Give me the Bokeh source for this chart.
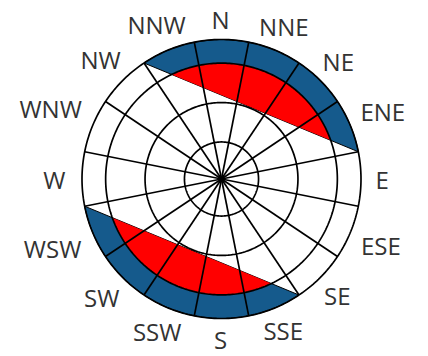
import numpy as np
from bokeh.plotting import figure
from bokeh.models import ColumnDataSource
from bokeh.core.properties import value
from bokeh.embed import file_html
from bokeh.resources import INLINE

# ---------------- data ----------------
directions = ["N", "NNE", "NE", "ENE", "E", "ESE", "SE", "SSE",
              "S", "SSW", "SW", "WSW", "W", "WNW", "NW", "NNW"]
outer_values = [3.6, 3.6, 3.6, 3.6, 0, 0, 0, 3.6,
                3.6, 3.6, 3.6, 3.6, 0, 0, 0, 3.6]
inner_values = [3.0, 3.0, 3.0, 3.0, 0, 0, 0, 3.0,
                3.0, 3.0, 3.0, 3.0, 0, 0, 0, 3.0]
radial_ticks = [1, 2, 3]
r_min, r_max = 0.06, 3.6

# ---------------- layout ----------------
W, H = 428, 356
cx, cy = 221, 178.5          # centre in frame pixels (from left / top)
R_PX = 139.5
scale = R_PX / (r_max - r_min)
BLUE = "#155a8c"
RED = "#ff0000"
FONT_PX = 24
GLYPH_W = {"N": 0.74, "E": 0.56, "W": 0.93, "S": 0.55}   # approx advance (em)

def rpx(v):
    return (v - r_min) * scale

n = len(directions)
step = 360.0 / n

def xy(r, deg):
    t = np.radians(deg)
    return r * np.sin(t), r * np.cos(t)

p = figure(width=W, height=H, output_backend="svg", toolbar_location=None,
           x_range=(-cx, W - cx), y_range=(-(H - cy), cy),
           min_border=0, outline_line_color=None)
p.axis.visible = False
p.grid.visible = False
p.background_fill_color = "white"
p.border_fill_color = "white"

# find circular runs of non-zero values
def runs(vals):
    nz = [v > 0 for v in vals]
    start = next(i for i in range(n) if not nz[i])
    out, cur = [], []
    for k in range(1, n + 1):
        i = (start + k) % n
        if nz[i]:
            cur.append(i)
        elif cur:
            out.append(cur)
            cur = []
    if cur:
        out.append(cur)
    return out

for run in runs(outer_values):
    a0 = run[0] * step - step / 2
    a1 = a0 + len(run) * step
    R_o = rpx(max(outer_values[i] for i in run))
    ang = np.linspace(a0, a1, 200)
    bx, by = xy(R_o, ang)
    p.patch(list(bx), list(by), fill_color=BLUE, line_color="black", line_width=1)
    # inner series clipped by the same chord
    half = (a1 - a0) / 2
    am = a0 + half
    d = R_o * np.cos(np.radians(half))
    r_in = rpx(max(inner_values[i] for i in run))
    if r_in > d:
        al = np.degrees(np.arccos(d / r_in))
        ang2 = np.linspace(am - al, am + al, 150)
        rx, ry = xy(r_in, ang2)
        p.patch(list(rx), list(ry), fill_color=RED, line_color=None)

# grid circles
circ = np.linspace(0, 360, 361)
cxs, cys = [], []
for t in radial_ticks + [r_max]:
    gx, gy = xy(rpx(t), circ)
    cxs.append(list(gx))
    cys.append(list(gy))
p.multi_line(cxs, cys, line_color="black", line_width=1.7)

# spokes at sector boundaries
sx, sy = [], []
for i in range(n):
    a = i * step + step / 2
    ex, ey = xy(R_PX, a)
    sx.append([0, ex])
    sy.append([0, ey])
p.multi_line(sx, sy, line_color="black", line_width=1.7)

# direction labels, pushed out by their half extent along the direction
lx, ly = [], []
for i, lab in enumerate(directions):
    a = np.radians(i * step)
    hw = sum(GLYPH_W[c] for c in lab) * FONT_PX / 2
    hh = 5.0
    r_lab = 155 + np.hypot(hw * np.sin(a), hh * np.cos(a))
    x, y = xy(r_lab, i * step)
    lx.append(x - 1)
    ly.append(y)
src = ColumnDataSource(dict(x=lx, y=ly, t=directions))
p.text("x", "y", text="t", source=src, text_align="center",
       text_baseline="middle", text_font=value("Open Sans"),
       text_font_size=f"{FONT_PX}px", text_color="#333333")

open("out.html", "w").write(file_html(p, INLINE))
